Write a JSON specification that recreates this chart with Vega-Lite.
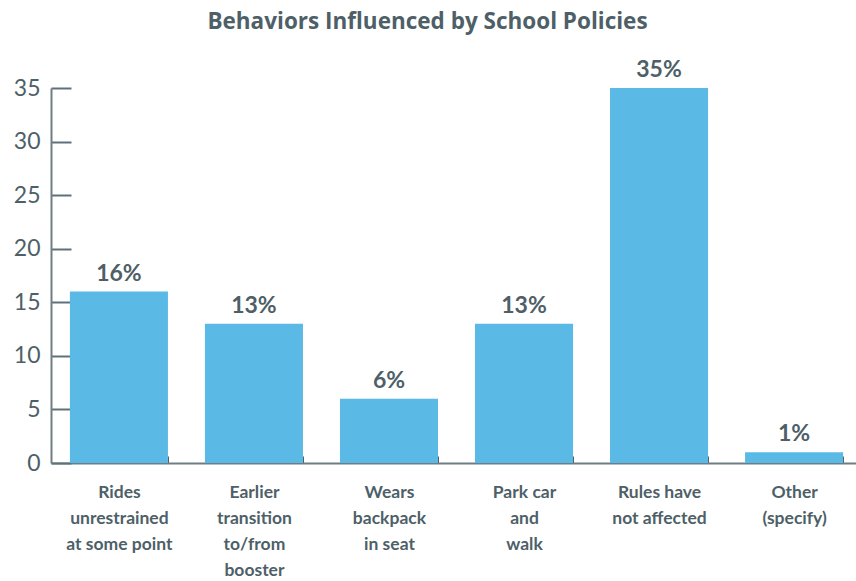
{
  "$schema": "https://vega.github.io/schema/vega-lite/v6.json",
  "autosize": {"type": "none"},
  "width": 811,
  "height": 375,
  "padding": {"left": 51, "top": 88, "right": 0, "bottom": 118},
  "background": "white",
  "title": {
    "text": "Behaviors Influenced by School Policies",
    "font": "Open Sans",
    "fontSize": 22.5,
    "fontWeight": "bold",
    "color": "#4E5F68",
    "anchor": "middle",
    "dx": -29,
    "offset": 26
  },
  "data": {
    "values": [
      {"behavior": "Rides|unrestrained|at some point", "value": 16},
      {"behavior": "Earlier|transition|to/from|booster", "value": 13},
      {"behavior": "Wears|backpack|in seat", "value": 6},
      {"behavior": "Park car|and|walk", "value": 13},
      {"behavior": "Rules have|not affected", "value": 35},
      {"behavior": "Other|(specify)", "value": 1}
    ]
  },
  "transform": [{"calculate": "datum.value + '%'", "as": "label"}],
  "encoding": {
    "x": {
      "field": "behavior",
      "type": "nominal",
      "sort": null,
      "scale": {"paddingInner": 0.274, "paddingOuter": 0.14},
      "axis": {
        "title": null,
        "labelAngle": 0,
        "labelExpr": "split(datum.label, '|')",
        "labelFont": "Lato",
        "labelFontSize": 17.5,
        "labelFontWeight": "bold",
        "labelColor": "#4E5F68",
        "labelLineHeight": 26,
        "labelBaseline": "top",
        "labelPadding": 27,
        "labelLimit": 200,
        "tickBand": "extent",
        "tickSize": -7,
        "tickColor": "#4E5F68",
        "domainColor": "#6E7E86",
        "domainWidth": 2
      }
    },
    "y": {
      "field": "value",
      "type": "quantitative",
      "scale": {"domain": [0, 35], "nice": false},
      "axis": {
        "title": null,
        "values": [0, 5, 10, 15, 20, 25, 30, 35],
        "grid": false,
        "labelFont": "Lato",
        "labelFontSize": 23,
        "labelColor": "#4E5F68",
        "labelPadding": 31,
        "tickSize": -20,
        "tickWidth": 2,
        "tickColor": "#5E7079",
        "domainColor": "#6E7E86",
        "domainWidth": 2
      }
    }
  },
  "layer": [
    {"mark": {"type": "bar", "color": "#5BB9E5"}},
    {
      "mark": {
        "type": "text",
        "baseline": "bottom",
        "dy": -6,
        "font": "Lato",
        "fontSize": 23,
        "fontWeight": "bold",
        "color": "#4E5F68"
      },
      "encoding": {"text": {"field": "label"}}
    }
  ],
  "config": {"view": {"stroke": null}}
}
